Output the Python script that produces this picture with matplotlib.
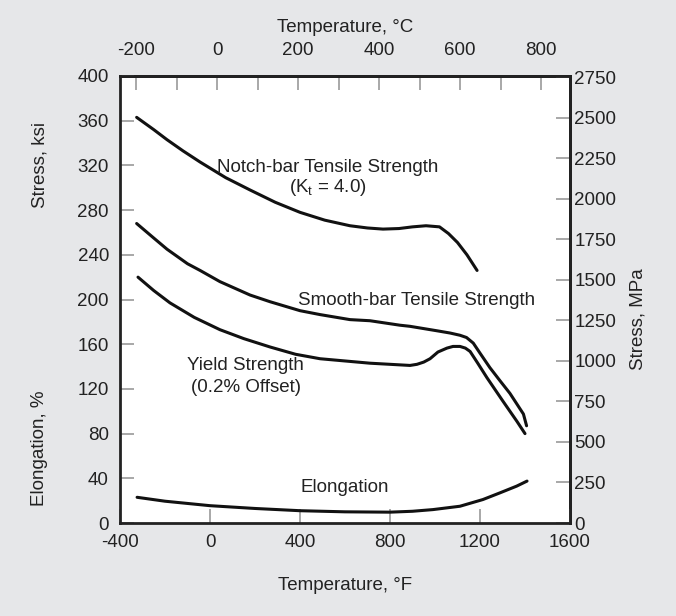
import numpy as np
import matplotlib.pyplot as plt
from matplotlib.ticker import MultipleLocator, FixedLocator

plt.rcParams['font.family'] = ['Liberation Sans', 'DejaVu Sans']
plt.rcParams['axes.unicode_minus'] = False

# curves: temperature in F, stress in ksi / elongation in %
notch_t = [-326, -250, -191, -120, -44, 70, 178, 290, 400, 510, 622, 700, 769, 840, 900, 960,
           1020, 1060, 1100, 1142, 1187]
notch_s = [363, 352, 343, 333, 323, 309, 298, 287, 278, 271, 266, 264, 263, 263.5, 265, 266,
           265, 259, 251, 240, 226]

smooth_t = [-326, -250, -191, -100, -44, 44, 178, 267, 400, 489, 622, 711, 844, 889,
            1009, 1067, 1111, 1140, 1170, 1200, 1244, 1290, 1333, 1393, 1407]
smooth_s = [268, 255, 245, 232, 226, 216, 204, 198, 190, 186.5, 182, 181, 177, 176,
            172, 170, 168, 166, 161, 152, 139, 127, 116, 97.5, 87]

yield_t = [-320, -250, -178, -70, 44, 150, 267, 380, 489, 600, 711, 800, 889, 920, 950, 978,
           1013, 1053, 1080, 1111, 1135, 1156, 1190, 1231, 1302, 1364, 1400]
yield_s = [220, 208, 197, 184, 173, 165, 157.5, 151, 147, 145, 143, 142, 141, 142, 144, 147,
           153, 156.5, 158, 158, 156.5, 153.5, 143, 130, 109, 91, 80]

elong_t = [-324, -200, 0, 200, 400, 600, 800, 900, 991, 1111, 1213, 1289, 1363, 1409]
elong_v = [23, 19.5, 15.5, 13, 11, 10, 9.7, 10.5, 12, 15, 21, 27, 33, 37.5]

ksi_ticks = np.arange(0, 401, 40)
mpa_ticks = np.arange(0, 2751, 250)
f_ticks = [-400, 0, 400, 800, 1200, 1600]
c_ticks = [-200, 0, 200, 400, 600, 800]

bg = '#e6e7e9'
tick_col = '#9a9a9a'
txt = '#222222'
fs = 13.5

fig = plt.figure(figsize=(6.76, 6.16), dpi=100, facecolor=bg)
ax = fig.add_axes([120/676, 1 - 523/616, 450/676, 447/616])
ax.set_facecolor('white')

for x, y in [(notch_t, notch_s), (smooth_t, smooth_s), (yield_t, yield_s), (elong_t, elong_v)]:
    ax.plot(x, y, color='#111111', lw=2.2, solid_capstyle='round', solid_joinstyle='round')

ax.set_xlim(-400, 1600)
ax.set_ylim(0, 400)
ax.set_xticks(f_ticks)
ax.set_yticks(ksi_ticks)
for s in ax.spines.values():
    s.set_linewidth(2)
    s.set_color(txt)
ax.tick_params(axis='both', direction='in', length=10, width=1.2, color=tick_col,
               labelsize=fs, labelcolor=txt, pad=8)

# top axis in Celsius
top = ax.secondary_xaxis('top', functions=(lambda f: (f - 32) / 1.8, lambda c: c * 1.8 + 32))
top.xaxis.set_major_locator(FixedLocator(c_ticks))
top.xaxis.set_minor_locator(MultipleLocator(100))
top.tick_params(which='both', direction='in', length=10, width=1.2, color=tick_col,
                labelsize=fs, labelcolor=txt, pad=12)
top.spines['top'].set_linewidth(2)

# right axis in MPa
right = ax.secondary_yaxis('right', functions=(lambda k: k * 6.895, lambda m: m / 6.895))
right.yaxis.set_major_locator(FixedLocator(mpa_ticks))
right.tick_params(direction='in', length=10, width=1.2, color=tick_col,
                  labelsize=fs, labelcolor=txt, pad=3)
right.spines['right'].set_linewidth(2)

# curve labels
ax.text(524, 318, 'Notch-bar Tensile Strength', fontsize=fs, ha='center', va='center', color=txt)
ax.text(524, 300, r'(K$_\mathregular{t}$ = 4.0)', fontsize=fs, ha='center', va='center', color=txt)
ax.text(916, 199, 'Smooth-bar Tensile Strength', fontsize=fs, ha='center', va='center', color=txt)
ax.text(158, 141, 'Yield Strength', fontsize=fs, ha='center', va='center', color=txt)
ax.text(160, 121, '(0.2% Offset)', fontsize=fs, ha='center', va='center', color=txt)
ax.text(600, 32, 'Elongation', fontsize=fs, ha='center', va='center', color=txt)

# axis titles
fig.text(345/676, 1 - 27/616, 'Temperature, °C', fontsize=fs, ha='center', va='center', color=txt)
fig.text(345/676, 1 - 585/616, 'Temperature, °F', fontsize=fs, ha='center', va='center', color=txt)
fig.text(40/676, 1 - 165/616, 'Stress, ksi', fontsize=fs, rotation=90, ha='center', va='center', color=txt)
fig.text(40/676, 1 - 448/616, 'Elongation, %', fontsize=fs, rotation=90, ha='center', va='center', color=txt)
fig.text(638/676, 1 - 319/616, 'Stress, MPa', fontsize=fs, rotation=90, ha='center', va='center', color=txt)

fig.savefig('out.png', dpi=100, facecolor=bg)
